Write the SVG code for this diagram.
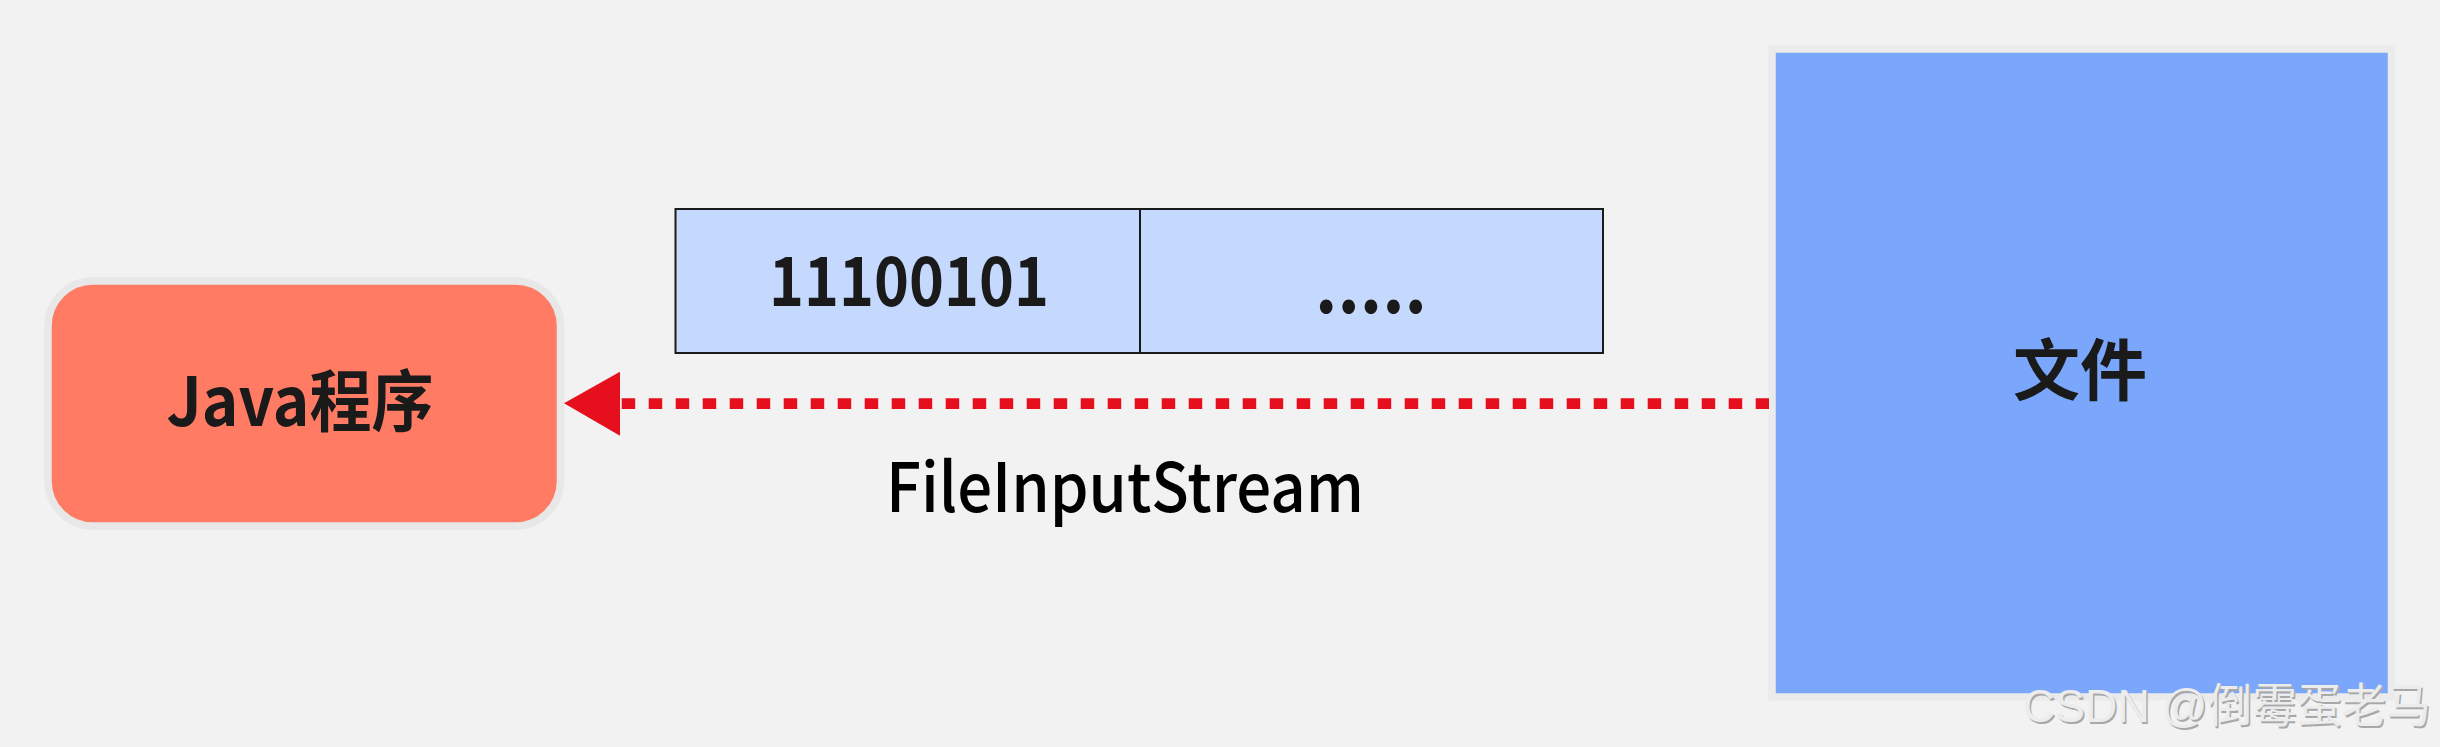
<svg xmlns="http://www.w3.org/2000/svg" width="2440" height="747" viewBox="0 0 2440 747">
<style>
.lbl{font-family:"Noto Sans CJK SC","Noto Sans",sans-serif;fill:#1a1a1a;text-anchor:middle}
.b{font-weight:bold}
.m{font-weight:500}
.wm{font-family:"Liberation Sans","Noto Sans CJK SC",sans-serif;font-size:47px}
</style>
<rect x="0" y="0" width="2440" height="747" fill="#f2f2f2"/>
<g id="java">
<rect x="48" y="281" width="512.5" height="245" rx="45" ry="45" fill="#ff7b63" stroke="#e8e8e8" stroke-width="7.5"/>
<text class="lbl b" x="300" y="425.7" font-size="67" textLength="267" lengthAdjust="spacingAndGlyphs">Java程序</text>
</g>
<g id="buffer">
<rect x="675.5" y="209" width="927.5" height="144" fill="#c5d9fe" stroke="#1a1a1a" stroke-width="2"/>
<line x1="1140" y1="209" x2="1140" y2="353" stroke="#1a1a1a" stroke-width="2"/>
<text class="lbl b" x="909" y="305.7" font-size="68" textLength="280" lengthAdjust="spacingAndGlyphs">11100101</text>
<text class="lbl b" x="1371" y="313" font-size="76" textLength="112" lengthAdjust="spacingAndGlyphs">.....</text>
</g>
<g id="file">
<rect x="1772" y="49" width="619.5" height="648" fill="#7aa7fb" stroke="#ebebeb" stroke-width="7.5"/>
<text class="lbl b" x="2080" y="395" font-size="67">文件</text>
</g>
<g id="connectors">
<path d="M564 403.3 L620 371.7 L620 435.7 Z" fill="#e60f1e"/>
<line x1="621.7" y1="403.6" x2="1769" y2="403.6" stroke="#e60f1e" stroke-width="10.7" stroke-dasharray="13.5 13.5"/>
<text class="lbl m" x="1125" y="511.7" font-size="68" style="fill:#000" textLength="478" lengthAdjust="spacingAndGlyphs">FileInputStream</text>
</g>
<g id="watermark">
<text class="wm" x="2024.5" y="723.5" fill="#a8a8a8" textLength="408" lengthAdjust="spacingAndGlyphs">CSDN @倒霉蛋老马</text>
<text class="wm" x="2023" y="722" fill="#ececec" textLength="408" lengthAdjust="spacingAndGlyphs">CSDN @倒霉蛋老马</text>
</g>
</svg>
